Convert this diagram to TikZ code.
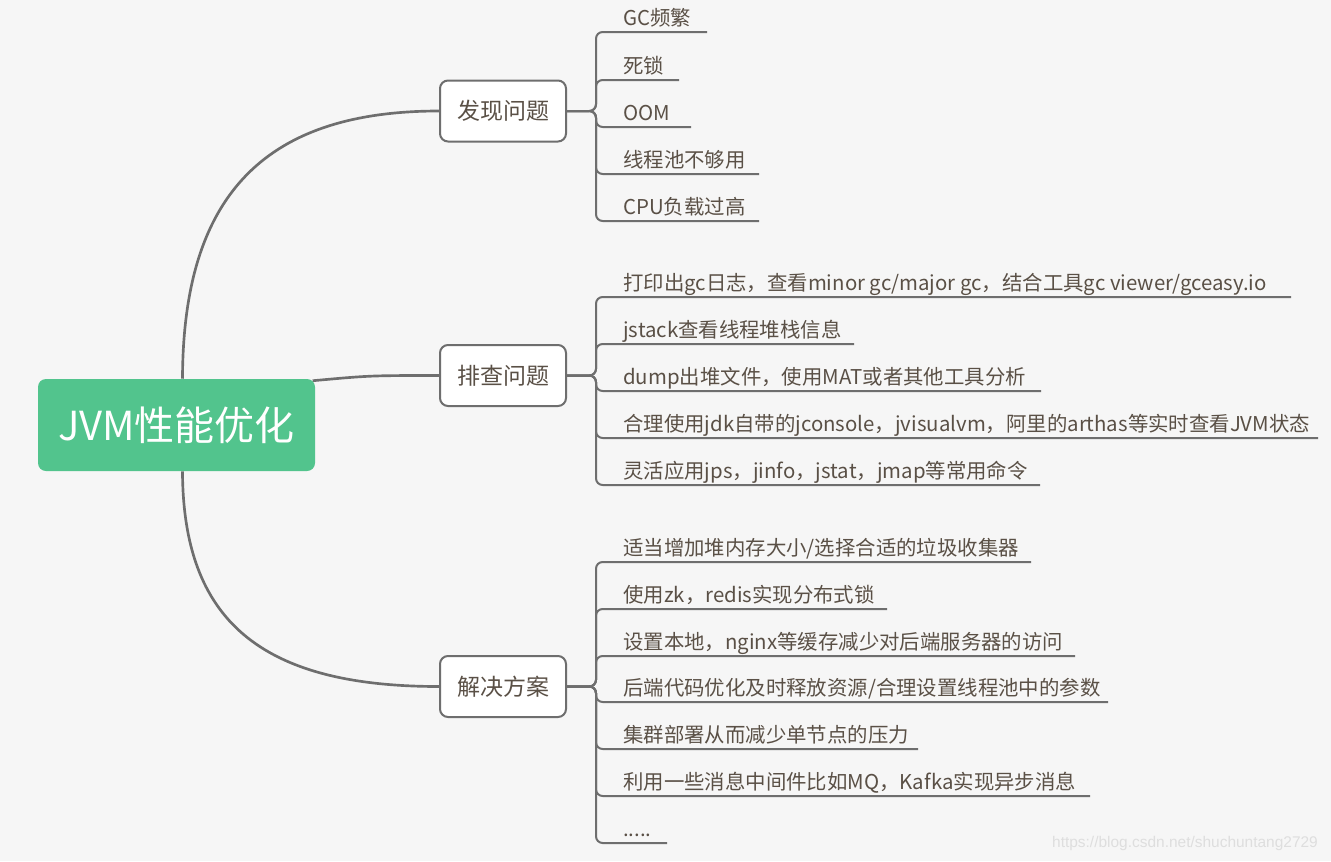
\documentclass[tikz,border=0pt]{standalone}
\usepackage{fontspec}
\setmainfont{Noto Sans CJK SC}
\newfontfamily\wmfont{Liberation Sans}
\definecolor{bg}{HTML}{F6F6F6}
\definecolor{rootgreen}{HTML}{52C48D}
\definecolor{txt}{HTML}{5A5046}
\definecolor{ln}{HTML}{6E6E6E}
\pgfdeclarelayer{background}
\pgfsetlayers{background,main}
\begin{document}
\begin{tikzpicture}[x=0.75pt,y=-0.75pt,
  leaf/.style={anchor=base west, inner sep=0pt, text=txt, font=\fontsize{15.3}{18}\selectfont},
  branch/.style={draw=ln, line width=1.5pt, fill=white, rounded corners=6pt, minimum width=94.5pt, minimum height=45.75pt, text=txt, font=\fontsize{17.25}{20}\selectfont, inner sep=0pt},
  rootbox/.style={fill=rootgreen, rounded corners=6pt, minimum width=207.75pt, minimum height=69pt, text=white, font=\fontsize{30}{36}\selectfont, inner sep=0pt},
  link/.style={draw=ln, line width=2pt},
  twig/.style={draw=ln, line width=1.5pt, rounded corners=5pt},
  wm/.style={text=black!13, font=\wmfont\fontsize{11.6}{13}\selectfont, inner sep=0pt}]
\useasboundingbox (0,0) rectangle (1331,861);

% nodes
\node[rootbox] (root) at (176.5,425) {JVM性能优化};
\node[branch] (b1) at (503,111) {发现问题};
\node[branch] (b2) at (503,375.5) {排查问题};
\node[branch] (b3) at (503,686.5) {解决方案};

% leaves of b1
\node[leaf] (l11) at (623,25) {GC频繁};
\node[leaf] (l12) at (623,73) {死锁};
\node[leaf] (l13) at (623,120) {OOM};
\node[leaf] (l14) at (623,167) {线程池不够用};
\node[leaf] (l15) at (623,214) {CPU负载过高};
\coordinate (e11) at (707,32);
\coordinate (e12) at (679,80);
\coordinate (e13) at (691,127);
\coordinate (e14) at (759,174);
\coordinate (e15) at (759,221);

% leaves of b2
\node[leaf] (l21) at (623,290) {打印出gc日志，查看minor gc/major gc，结合工具gc viewer/gceasy.io};
\node[leaf] (l22) at (623,337) {jstack查看线程堆栈信息};
\node[leaf] (l23) at (623,384) {dump出堆文件，使用MAT或者其他工具分析};
\node[leaf] (l24) at (623,431) {合理使用jdk自带的jconsole，jvisualvm，阿里的arthas等实时查看JVM状态};
\node[leaf] (l25) at (623,478) {灵活应用jps，jinfo，jstat，jmap等常用命令};
\coordinate (e21) at (1291,297);
\coordinate (e22) at (854,344);
\coordinate (e23) at (1041,391);
\coordinate (e24) at (1318,438);
\coordinate (e25) at (1040,485);

% leaves of b3
\node[leaf] (l31) at (623,555) {适当增加堆内存大小/选择合适的垃圾收集器};
\node[leaf] (l32) at (623,602) {使用zk，redis实现分布式锁};
\node[leaf] (l33) at (623,649) {设置本地，nginx等缓存减少对后端服务器的访问};
\node[leaf] (l34) at (623,695) {后端代码优化及时释放资源/合理设置线程池中的参数};
\node[leaf] (l35) at (623,742) {集群部署从而减少单节点的压力};
\node[leaf] (l36) at (623,789) {利用一些消息中间件比如MQ，Kafka实现异步消息};
\node[leaf] (l37) at (623,836) {.....};
\coordinate (e31) at (1031,562);
\coordinate (e32) at (887,609);
\coordinate (e33) at (1075,656);
\coordinate (e34) at (1108,702);
\coordinate (e35) at (918,749);
\coordinate (e36) at (1090,796);
\coordinate (e37) at (667,843);

\node[wm] (wmark) at (1185,843) {https://blog.csdn.net/shuchuntang2729};

\begin{pgfonlayer}{background}
\fill[bg] (0,0) rectangle (1331,861);
% main connectors
\draw[link] ([xshift=4.5pt]root.north) .. controls (183,200) and (260,111) .. (b1.west);
\draw[link] ([xshift=-2pt,yshift=-1.5pt]root.north east) .. controls (370,375.5) .. (b2.west);
\draw[link] ([xshift=4.5pt]root.south) .. controls (183,620) and (260,686.5) .. (b3.west);
% twigs
\foreach \e in {e11,e12,e13,e14,e15}
  \draw[twig] (b1.east) -- ++(29,0) |- (\e);
\foreach \e in {e21,e22,e23,e24,e25}
  \draw[twig] (b2.east) -- ++(29,0) |- (\e);
\foreach \e in {e31,e32,e33,e34,e35,e36,e37}
  \draw[twig] (b3.east) -- ++(29,0) |- (\e);
\end{pgfonlayer}
\end{tikzpicture}
\end{document}
